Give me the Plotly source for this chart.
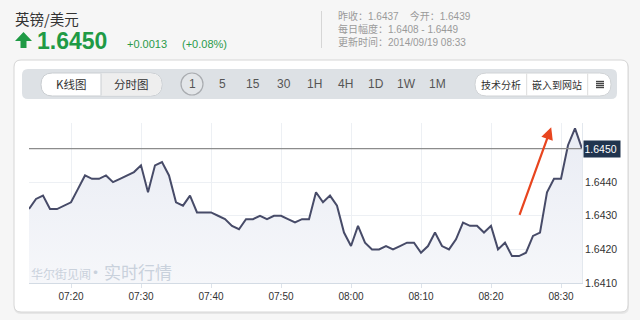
import plotly.graph_objects as go
import pandas as pd

# ---------------- data ----------------
start_time = "2014-09-19 07:14"
prices = [
    1.6432, 1.6435, 1.6436, 1.6432, 1.6432, 1.6433, 1.6434, 1.6438, 1.6442, 1.6441,
    1.6441, 1.6442, 1.6440, 1.6441, 1.6442, 1.6443, 1.6445, 1.6437, 1.6445, 1.6446,
    1.6442, 1.6434, 1.6433, 1.6436, 1.6431, 1.6431, 1.6431, 1.6430, 1.6429, 1.6427,
    1.6426, 1.6429, 1.6429, 1.6430, 1.6429, 1.6430, 1.6430, 1.6429, 1.6428, 1.6429,
    1.6429, 1.6437, 1.6434, 1.6436, 1.6433, 1.6425, 1.6421, 1.6427, 1.6422, 1.6420,
    1.6420, 1.6421, 1.6420, 1.6421, 1.6422, 1.6422, 1.6419, 1.6421, 1.6425, 1.6421,
    1.6420, 1.6423, 1.6428, 1.6427, 1.6427, 1.6425, 1.6427, 1.6420, 1.6422, 1.6418,
    1.6418, 1.6419, 1.6424, 1.6425, 1.6437, 1.6441, 1.6441, 1.6451, 1.6456, 1.6450,
]
times = pd.date_range(start_time, periods=len(prices), freq="1min")
x_range = ["2014-09-19 07:14", "2014-09-19 08:33"]
y_range = [1.6410, 1.64576]
y_ticks = [1.6410, 1.6420, 1.6430, 1.6440, 1.6450]
y_ticktext = ["1.6410", "1.6420", "1.6430", "1.6440", ""]

pair_name = "英镑/美元"
last_price = "1.6450"
change = "+0.0013"
change_pct = "(+0.08%)"
info_lines = ["昨收：1.6437", "今开：1.6439", "每日幅度：1.6408 - 1.6449", "更新时间：2014/09/19 08:33"]
toggle_labels = ["K线图", "分时图"]
period_labels = ["1", "5", "15", "30", "1H", "4H", "1D", "1W", "1M"]
tool_labels = ["技术分析", "嵌入到网站"]
watermark_small = "华尔街见闻"
watermark_big = "·实时行情"
arrow_tail = ("2014-09-19 08:24", 1.64298)
arrow_head = ("2014-09-19 08:28:36", 1.64563)

# ---------------- geometry helpers ----------------
L, R, T, B = 29, 582, 123, 283
W, H = R - L, B - T
FONT = "Liberation Sans, Noto Sans CJK SC, sans-serif"
CJK = "Noto Sans CJK SC, Liberation Sans, sans-serif"


def px(x):
    return (x - L) / W


def py(y):
    return (B - y) / H


def rrect(x0, y0, x1, y1, r):
    pts = [
        f"M {px(x0 + r)},{py(y0)}",
        f"L {px(x1 - r)},{py(y0)}",
        f"Q {px(x1)},{py(y0)} {px(x1)},{py(y0 + r)}",
        f"L {px(x1)},{py(y1 - r)}",
        f"Q {px(x1)},{py(y1)} {px(x1 - r)},{py(y1)}",
        f"L {px(x0 + r)},{py(y1)}",
        f"Q {px(x0)},{py(y1)} {px(x0)},{py(y1 - r)}",
        f"L {px(x0)},{py(y0 + r)}",
        f"Q {px(x0)},{py(y0)} {px(x0 + r)},{py(y0)}",
        "Z",
    ]
    return " ".join(pts)


shapes = []
annotations = []


def add_path(path, fill, line="rgba(0,0,0,0)", lw=1, layer="below"):
    shapes.append(dict(type="path", xref="paper", yref="paper", path=path,
                       fillcolor=fill, line=dict(color=line, width=lw), layer=layer))


def add_line(x0, y0, x1, y1, color, lw=1, layer="above"):
    shapes.append(dict(type="line", xref="paper", yref="paper",
                       x0=px(x0), y0=py(y0), x1=px(x1), y1=py(y1),
                       line=dict(color=color, width=lw), layer=layer))


def add_text(x, y, text, size, color, anchor="left", family=FONT, align="left"):
    annotations.append(dict(xref="paper", yref="paper", x=px(x), y=py(y), text=text,
                            showarrow=False, xanchor=anchor, yanchor="middle", align=align,
                            font=dict(size=size, color=color, family=family)))


# card with soft shadow
add_path(rrect(14, 61, 629, 314, 7), "#e6e6e6")
add_path(rrect(14, 60, 628, 312, 7), "#ffffff", line="#d6d6d6", lw=1)

# toolbar
add_path(rrect(22, 69, 617, 99, 6), "#dde1e5", layer="above")
add_path(rrect(41, 73, 162, 96, 11.5), "#ffffff", line="#c9cdd1", lw=1, layer="above")
add_path(f"M {px(101)},{py(73.5)} L {px(150.5)},{py(73.5)} Q {px(161.5)},{py(73.5)} {px(161.5)},{py(84.5)} "
         f"Q {px(161.5)},{py(95.5)} {px(150.5)},{py(95.5)} L {px(101)},{py(95.5)} Z",
         "#eeeeee", layer="above")
add_line(101, 73.5, 101, 95.5, "#c9cdd1")
add_text(71, 84.5, toggle_labels[0], 11.5, "#333333", "center", CJK)
add_text(131.5, 84.5, toggle_labels[1], 11.5, "#333333", "center", CJK)

shapes.append(dict(type="circle", xref="paper", yref="paper",
                   x0=px(181), y0=py(73), x1=px(203), y1=py(95),
                   fillcolor="#e3e6e9", line=dict(color="#a9acb0", width=1.2), layer="above"))
period_x = [192, 222.7, 253.4, 284.1, 314.8, 345.5, 376.2, 406.9, 437.6]
for lab, xx in zip(period_labels, period_x):
    add_text(xx, 84.5, lab, 12, "#555555", "center")

add_path(rrect(475, 73, 611, 96, 11.5), "#ffffff", line="#d0d3d6", lw=1, layer="above")
add_line(526.7, 73.5, 526.7, 95.5, "#dcdcdc")
add_line(587.7, 73.5, 587.7, 95.5, "#dcdcdc")
add_text(501, 84.5, tool_labels[0], 10, "#333333", "center", CJK)
add_text(557.3, 84.5, tool_labels[1], 10, "#333333", "center", CJK)
for yy in [81.5, 83.5, 85.5, 87.5]:
    add_line(596, yy, 604, yy, "#444444", lw=1.4)

# header
add_text(13, 18, pair_name, 14.5, "#333333", "left", CJK)
add_path(f"M {px(23.5)},{py(32)} L {px(32)},{py(41)} L {px(26.5)},{py(41)} L {px(26.5)},{py(48)} "
         f"L {px(20.5)},{py(48)} L {px(20.5)},{py(41)} L {px(15)},{py(41)} Z", "#1f9a45", layer="above")
add_text(35, 40.5, f"<b>{last_price}</b>", 23, "#1f9a45")
add_text(125, 43.5, change, 11, "#2a9a4a")
add_text(180, 43.5, change_pct, 11, "#2a9a4a")
add_line(321.5, 11, 321.5, 48, "#d6d6d6")
gap = "&nbsp;" * 4
info_text = f"{info_lines[0]}{gap}{info_lines[1]}<br>{info_lines[2]}<br>{info_lines[3]}"
add_text(336, 29.5, info_text, 10, "#9a9a9a", "left", FONT, "left")

# watermark
add_text(29, 273.5, watermark_small, 12, "#c9d1dc", "left", CJK)
add_text(85, 271.5, watermark_big, 17, "#c9d1dc", "left", CJK)

# current price line + box
shapes.append(dict(type="line", xref="paper", yref="y", x0=0, x1=1,
                   y0=prices[-1], y1=prices[-1], line=dict(color="#8c8c8c", width=1.2), layer="above"))
annotations.append(dict(xref="paper", yref="y", x=px(582.5), y=prices[-1], text=f"{prices[-1]:.4f}",
                        showarrow=False, xanchor="left", yanchor="middle", bgcolor="#20344e",
                        width=35, height=15, align="left", borderpad=0.5,
                        font=dict(size=10.5, color="#ffffff", family=FONT)))

# red arrow
annotations.append(dict(x=arrow_head[0], y=arrow_head[1], ax=arrow_tail[0], ay=arrow_tail[1],
                        xref="x", yref="y", axref="x", ayref="y", text="", showarrow=True,
                        arrowhead=2, arrowsize=1.1, arrowwidth=2.2, arrowcolor="#e8451f"))

fig = go.Figure()
fig.add_trace(go.Scatter(
    x=times, y=prices, mode="lines",
    line=dict(color="#474b68", width=2),
    fill="tozeroy",
    fillgradient=dict(type="vertical", start=y_range[0], stop=1.6456,
                      colorscale=[[0, "#f6f7fa"], [1, "#e9ecf4"]]),
    hoverinfo="skip",
))

fig.update_layout(
    width=640, height=320,
    margin=dict(l=L, r=640 - R, t=T, b=320 - B, pad=0),
    paper_bgcolor="#f6f6f6",
    plot_bgcolor="rgba(0,0,0,0)",
    showlegend=False,
    shapes=shapes,
    annotations=annotations,
    font=dict(family=FONT, color="#333333"),
    xaxis=dict(
        type="date", range=x_range, dtick=600000, tick0="2014-09-19 07:20",
        tickformat="%H:%M", tickfont=dict(size=10, color="#333333"),
        showgrid=True, gridcolor="#edf0f4", gridwidth=1,
        showline=True, linecolor="#d3dbe4", linewidth=1,
        ticks="outside", ticklen=4, tickcolor="#dde3ea",
        zeroline=False, fixedrange=True,
    ),
    yaxis=dict(
        side="right", range=y_range, tickvals=y_ticks, ticktext=y_ticktext,
        tickfont=dict(size=10.5, color="#333333"),
        showgrid=True, gridcolor="#edf0f4", gridwidth=1,
        showline=True, linecolor="#e3e8ee", linewidth=1,
        ticks="", zeroline=False, fixedrange=True,
    ),
)

fig.write_html("out.html", config={"displayModeBar": False})
